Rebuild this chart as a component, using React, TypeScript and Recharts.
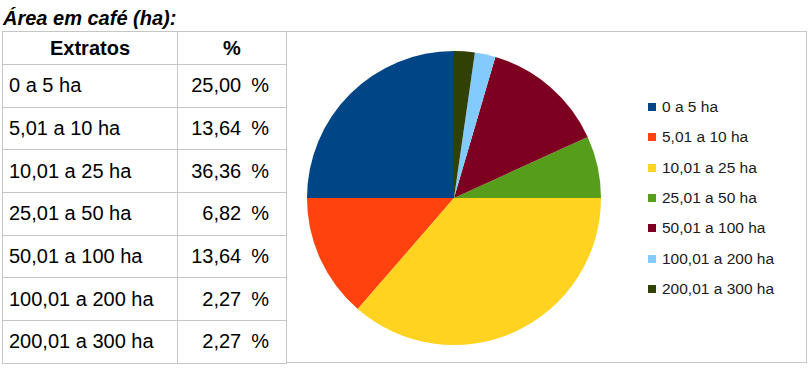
import React from 'react';
import { PieChart, Pie, Cell, Legend } from 'recharts';

const extratos = [
  '0 a 5 ha',
  '5,01 a 10 ha',
  '10,01 a 25 ha',
  '25,01 a 50 ha',
  '50,01 a 100 ha',
  '100,01 a 200 ha',
  '200,01 a 300 ha',
];
const percentuais = [25.0, 13.64, 36.36, 6.82, 13.64, 2.27, 2.27];
const cores = ['#004586', '#ff420e', '#ffd320', '#579d1c', '#7e0021', '#83caff', '#314004'];

const pieData = extratos.map((name, i) => ({ name, value: percentuais[i] }));

const fmt = (v: number) => v.toFixed(2).replace('.', ',');

const border = '1px solid #c6c6c6';
const font = '"Liberation Sans", Arial, sans-serif';

// legend drawn in the data order (recharts sorts the payload by name otherwise)
const LegendList = () => (
  <ul style={{ listStyle: 'none', margin: 0, padding: 0 }}>
    {extratos.map((name, i) => (
      <li
        key={name}
        style={{ display: 'flex', alignItems: 'center', height: 30.3, fontFamily: font, fontSize: 15.5, color: '#1a1a1a', whiteSpace: 'nowrap' }}
      >
        <span style={{ display: 'inline-block', width: 8, height: 8, background: cores[i], marginRight: 6 }} />
        {name}
      </li>
    ))}
  </ul>
);

const cell = { border, fontFamily: font, fontSize: 20, color: '#000' };

const App = () => {
  return (
    <div style={{ position: 'absolute', left: 0, top: 0, width: 812, height: 370, background: '#fff', fontFamily: font }}>
      <div
        style={{ position: 'absolute', left: 3, top: 7, fontSize: 20, fontWeight: 'bold', fontStyle: 'italic', color: '#000', whiteSpace: 'nowrap' }}
      >
        Área em café (ha):
      </div>

      <table
        style={{ position: 'absolute', left: 2, top: 31, width: 285, borderCollapse: 'collapse', fontFamily: font, fontSize: 20, color: '#000' }}
      >
        <thead>
          <tr style={{ height: 33 }}>
            <th style={{ ...cell, width: 174, fontWeight: 'bold', padding: 0 }}>Extratos</th>
            <th style={{ ...cell, fontWeight: 'bold', padding: 0 }}>%</th>
          </tr>
        </thead>
        <tbody>
          {extratos.map((e, i) => (
            <tr key={e} style={{ height: 42.7 }}>
              <td style={{ ...cell, padding: '0 0 0 6px', whiteSpace: 'nowrap' }}>{e}</td>
              <td style={{ ...cell, padding: '0 17px 0 0', textAlign: 'right', whiteSpace: 'nowrap' }}>
                {fmt(percentuais[i])}
                <span style={{ marginLeft: 10 }}>%</span>
              </td>
            </tr>
          ))}
        </tbody>
      </table>

      <div style={{ position: 'absolute', left: 287, top: 31, width: 520, height: 332, border, borderLeft: 'none', boxSizing: 'border-box' }}>
        <PieChart width={519} height={330} margin={{ top: 0, right: 0, bottom: 0, left: 0 }}>
          <Pie
            data={pieData}
            dataKey="value"
            nameKey="name"
            cx={167}
            cy={166}
            outerRadius={147}
            startAngle={90}
            endAngle={450}
            stroke="none"
            isAnimationActive={false}
          >
            {pieData.map((d, i) => (
              <Cell key={d.name} fill={cores[i]} />
            ))}
          </Pie>
          <Legend
            layout="vertical"
            content={<LegendList />}
            wrapperStyle={{ left: 361, top: 60, width: 150 }}
          />
        </PieChart>
      </div>
    </div>
  );
};

export default App;
